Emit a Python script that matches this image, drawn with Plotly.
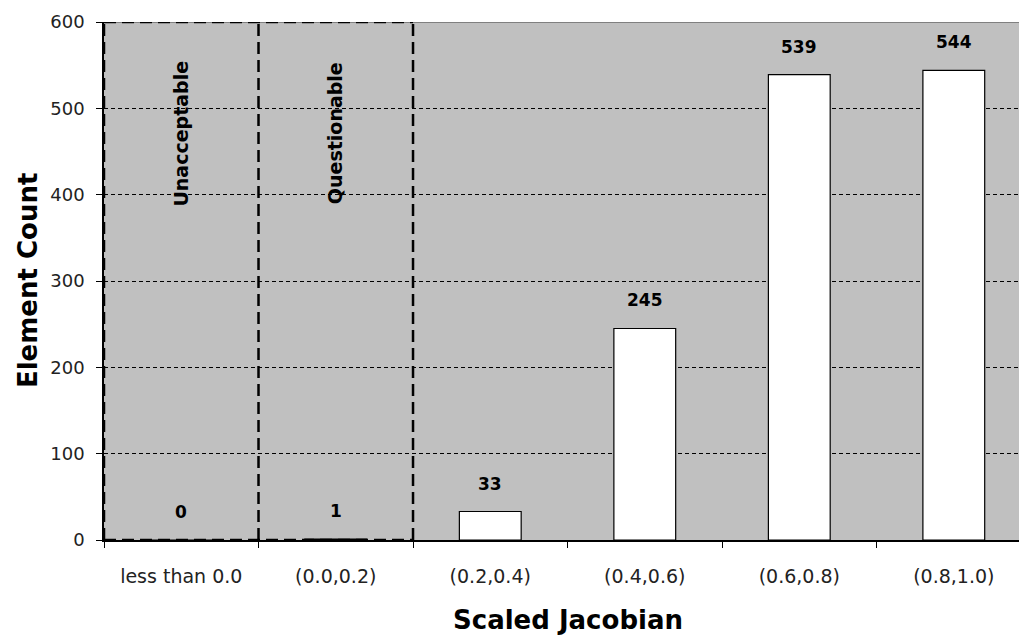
import plotly.graph_objects as go

# Histogram of scaled Jacobian element quality
categories = ["less than 0.0", "(0.0,0.2)", "(0.2,0.4)", "(0.4,0.6)", "(0.6,0.8)", "(0.8,1.0)"]
counts = [0, 1, 33, 245, 539, 544]
zone_labels = ["Unacceptable", "Questionable"]
y_ticks = [0, 100, 200, 300, 400, 500, 600]

FONT = "DejaVu Sans, Verdana, sans-serif"
x_pos = list(range(len(categories)))
DASHED = dict(color="black", width=2.5, dash="12px,6px")

fig = go.Figure()
fig.add_trace(go.Bar(
    x=x_pos, y=counts, width=0.4,
    marker=dict(color="white", line=dict(color="black", width=1.2)),
    showlegend=False, hoverinfo="x+y",
))

# value labels above each bar
for xi, c in zip(x_pos, counts):
    fig.add_annotation(x=xi, y=c, xref="x", yref="y", yanchor="bottom", yshift=16,
                       text=str(c), showarrow=False,
                       font=dict(family=FONT, size=17, color="black", weight="bold"))

# dashed outline of the poor-quality zones (each edge drawn once)
n_zones = len(zone_labels)
for k in range(n_zones + 1):
    fig.add_shape(type="line", xref="x", yref="y", x0=k - 0.5, x1=k - 0.5,
                  y0=0, y1=600, line=DASHED, layer="above")
for yv in (0, 600):
    fig.add_shape(type="line", xref="x", yref="y", x0=-0.5, x1=n_zones - 0.5,
                  y0=yv, y1=yv, line=DASHED, layer="above")
for i, label in enumerate(zone_labels):
    fig.add_annotation(x=i, y=471, xref="x", yref="y", text=label, textangle=-90,
                       showarrow=False,
                       font=dict(family=FONT, size=19, color="black", weight="bold"))

# top border of the plot area
fig.add_shape(type="line", xref="paper", yref="y", x0=0, x1=1, y0=600, y1=600,
              line=dict(color="#808080", width=2), layer="below")

# axis titles
fig.add_annotation(x=2.5, y=-0.154, xref="x", yref="paper", yanchor="middle",
                   text="Scaled Jacobian", showarrow=False,
                   font=dict(family=FONT, size=26, color="black", weight="bold"))
fig.add_annotation(x=-0.083, y=0.5, xref="paper", yref="paper", xanchor="center",
                   yanchor="middle", textangle=-90,
                   text="Element Count", showarrow=False,
                   font=dict(family=FONT, size=26, color="black", weight="bold"))

fig.update_layout(
    width=1019, height=637,
    margin=dict(l=104, r=0, t=22, b=97),
    paper_bgcolor="white", plot_bgcolor="#c0c0c0",
    font=dict(family=FONT, size=18, color="#222"),
)
fig.update_xaxes(
    range=[-0.5, 5.422], tickvals=x_pos, ticktext=categories, ticks="",
    ticklabelstandoff=18,
    showgrid=False, zeroline=False, showline=True, linecolor="black", linewidth=1.5,
    tickfont=dict(family=FONT, size=19, color="#222"),
    minor=dict(tickvals=[i - 0.5 for i in range(7)], ticks="outside", ticklen=6,
               tickcolor="black", tickwidth=1, showgrid=False),
)
fig.update_yaxes(
    range=[0, 600], tickvals=y_ticks, ticks="outside", ticklen=6, tickcolor="black",
    ticklabelstandoff=8,
    showline=True, linecolor="black", linewidth=1.5,
    showgrid=True, gridcolor="black", gridwidth=1, griddash="4px,3px", zeroline=False,
    tickfont=dict(family=FONT, size=18, color="#222"),
)

fig.write_html("out.html")
